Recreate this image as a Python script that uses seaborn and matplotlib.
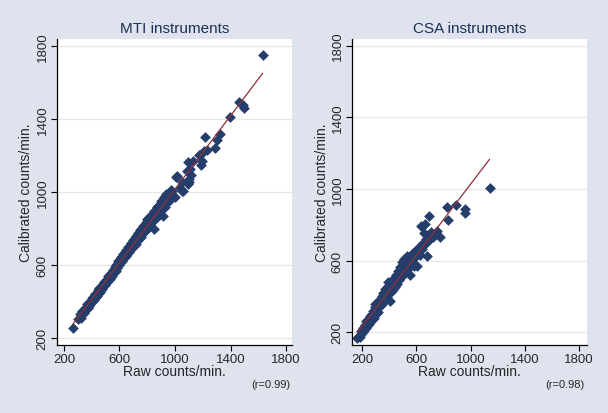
import matplotlib
matplotlib.use("Agg")
import matplotlib.pyplot as plt
import seaborn as sns
import pandas as pd

# MTI instruments: raw vs calibrated counts/min
mti_raw = [262, 300, 315, 320, 335, 350, 360, 372, 385, 395, 405, 418, 425, 438, 445,
           455, 468, 475, 488, 495, 505, 512, 520, 530, 538, 545, 552, 560, 566, 572,
           578, 585, 590, 596, 602, 608, 614, 620, 626, 632, 638, 644, 650, 656, 662,
           668, 674, 680, 686, 692, 698, 704, 710, 716, 722, 728, 734, 740, 746, 752,
           758, 764, 770, 776, 782, 790, 796, 798, 806, 814, 822, 830, 838, 846, 846,
           854, 862, 868, 870, 880, 890, 900, 910, 916, 920, 930, 933, 940, 945, 960,
           971, 988, 1000, 1005, 1012, 1036, 1048, 1048, 1060, 1084, 1091, 1096, 1099,
           1103, 1108, 1115, 1127, 1175, 1180, 1190, 1195, 1209, 1214, 1228, 1286,
           1300, 1324, 1396, 1459, 1488, 1497, 1632,
           330, 342, 365, 380, 400, 412, 430, 450, 462, 480, 500, 515, 535, 550, 565,
           580, 595, 610, 625, 640, 655, 670, 685, 700, 715, 730, 745, 760, 775, 790,
           805, 820, 835, 850, 865, 880, 895, 905, 925, 950, 965, 980]
mti_cal = [255, 305, 330, 310, 345, 360, 372, 365, 398, 392, 420, 410, 440, 430, 462,
           448, 480, 470, 505, 490, 520, 508, 540, 522, 555, 540, 575, 560, 590, 570,
           600, 585, 620, 598, 635, 615, 645, 625, 660, 640, 672, 652, 685, 662, 700,
           672, 712, 688, 722, 698, 735, 705, 748, 715, 760, 730, 775, 742, 790, 755,
           800, 768, 812, 780, 825, 790, 852, 840, 805, 860, 820, 875, 838, 895, 797,
           850, 900, 916, 862, 925, 880, 950, 905, 870, 975, 920, 989, 967, 985, 950,
           1013, 980, 971, 1080, 1089, 1020, 1004, 1053, 1007, 1117, 1044, 1162, 1071,
           1053, 1126, 1095, 1168, 1203, 1204, 1150, 1172, 1223, 1303, 1230, 1239,
           1287, 1318, 1413, 1495, 1477, 1460, 1752,
           350, 338, 390, 375, 410, 428, 425, 475, 455, 498, 512, 532, 530, 558, 575,
           605, 612, 632, 648, 660, 680, 690, 705, 722, 738, 752, 770, 785, 798, 815,
           830, 845, 860, 872, 890, 900, 925, 940, 950, 980, 995, 1005]

# CSA instruments
csa_raw = [165, 175, 185, 190, 195, 205, 210, 215, 220, 228, 235, 240, 248, 252, 258,
           262, 270, 275, 280, 285, 292, 296, 300, 305, 312, 318, 322, 328, 335, 340,
           345, 350, 356, 362, 370, 372, 378, 385, 390, 395, 400, 407, 412, 418, 425,
           430, 437, 442, 450, 457, 460, 466, 472, 481, 485, 494, 500, 506, 510, 514,
           520, 526, 531, 536, 542, 548, 556, 562, 570, 580, 590, 600, 605, 615, 625,
           637, 645, 654, 660, 667, 675, 678, 693, 700, 720, 753, 778, 827, 832, 896,
           958, 963, 1140,
           200, 218, 232, 245, 260, 268, 290, 300, 315, 325, 338, 350, 360, 375, 388,
           398, 410, 422, 435, 448, 462, 475, 490, 505, 518, 530, 545, 560, 575, 590,
           610, 630, 650, 670, 690, 710]
csa_cal = [166, 180, 175, 205, 190, 200, 225, 210, 240, 222, 255, 235, 270, 248, 290,
           258, 300, 268, 318, 280, 340, 358, 300, 330, 355, 315, 370, 340, 385, 350,
           400, 360, 418, 375, 442, 400, 430, 395, 460, 479, 420, 377, 470, 430, 490,
           440, 505, 455, 520, 507, 470, 540, 490, 563, 510, 591, 520, 609, 545, 600,
           560, 585, 628, 555, 600, 580, 520, 610, 590, 572, 620, 640, 572, 650, 630,
           792, 665, 753, 690, 805, 700, 628, 851, 720, 730, 768, 734, 898, 829, 911,
           889, 865, 1006,
           215, 230, 262, 250, 275, 285, 300, 320, 340, 355, 360, 380, 392, 410, 420,
           445, 450, 465, 470, 490, 500, 515, 530, 545, 575, 590, 615, 630, 640, 655,
           660, 680, 700, 720, 745, 760]

panels = [
    ("MTI instruments", mti_raw, mti_cal, "(r=0.99)", (150, 1843), (163, 1837)),
    ("CSA instruments", csa_raw, csa_cal, "(r=0.98)", (126, 1859), (129, 1837)),
]
ticks = [200, 600, 1000, 1400, 1800]

sns.set_style("white")
plt.rcParams["font.family"] = ["Liberation Sans", "DejaVu Sans"]

bg = "#dfe3ee"
fig = plt.figure(figsize=(6.08, 4.14), dpi=100, facecolor=bg)
lefts = [57 / 608, 352 / 608]

for i, (title, raw, cal, rtxt, xl, yl) in enumerate(panels):
    ax = fig.add_axes([lefts[i], 68 / 414, 235 / 608, 306 / 414])
    df = pd.DataFrame({"raw": raw, "cal": cal})
    for t in ticks:
        ax.axhline(t, color="#e6e6e6", lw=0.9, zorder=0)
    sns.regplot(data=df, x="raw", y="cal", ax=ax, ci=None, truncate=True,
                marker="D", color="#243d6b",
                scatter_kws={"s": 30, "linewidths": 0, "alpha": 1, "zorder": 2},
                line_kws={"color": "#8c3038", "lw": 0.9, "zorder": 3})
    ax.set_xlim(*xl)
    ax.set_ylim(*yl)
    ax.set_xticks(ticks)
    ax.set_yticks(ticks)
    ax.set_xticklabels([str(t) for t in ticks], fontsize=9.5)
    ax.set_yticklabels([str(t) for t in ticks], fontsize=9.5, rotation=90, va="center")
    ax.tick_params(axis="both", direction="out", length=4, width=0.8, color="black",
                   bottom=True, left=True, pad=2)
    for s in ["top", "right"]:
        ax.spines[s].set_visible(False)
    for s in ["left", "bottom"]:
        ax.spines[s].set_color("black")
        ax.spines[s].set_linewidth(0.9)
    ax.set_xlabel("")
    ax.set_ylabel("Calibrated counts/min.", fontsize=10)
    ax.yaxis.set_label_coords(-0.10, 0.5)
    ax.set_title(title, fontsize=11, color="#1c2f55", pad=5)
    cx = lefts[i] + 117 / 608
    fig.text(cx, 1 - 372 / 414, "Raw counts/min.", ha="center", va="center", fontsize=10)
    fig.text(lefts[i] + 233 / 608, 1 - 385 / 414, rtxt, ha="right", va="center", fontsize=8)

plt.savefig("out.png", dpi=100, facecolor=bg)
